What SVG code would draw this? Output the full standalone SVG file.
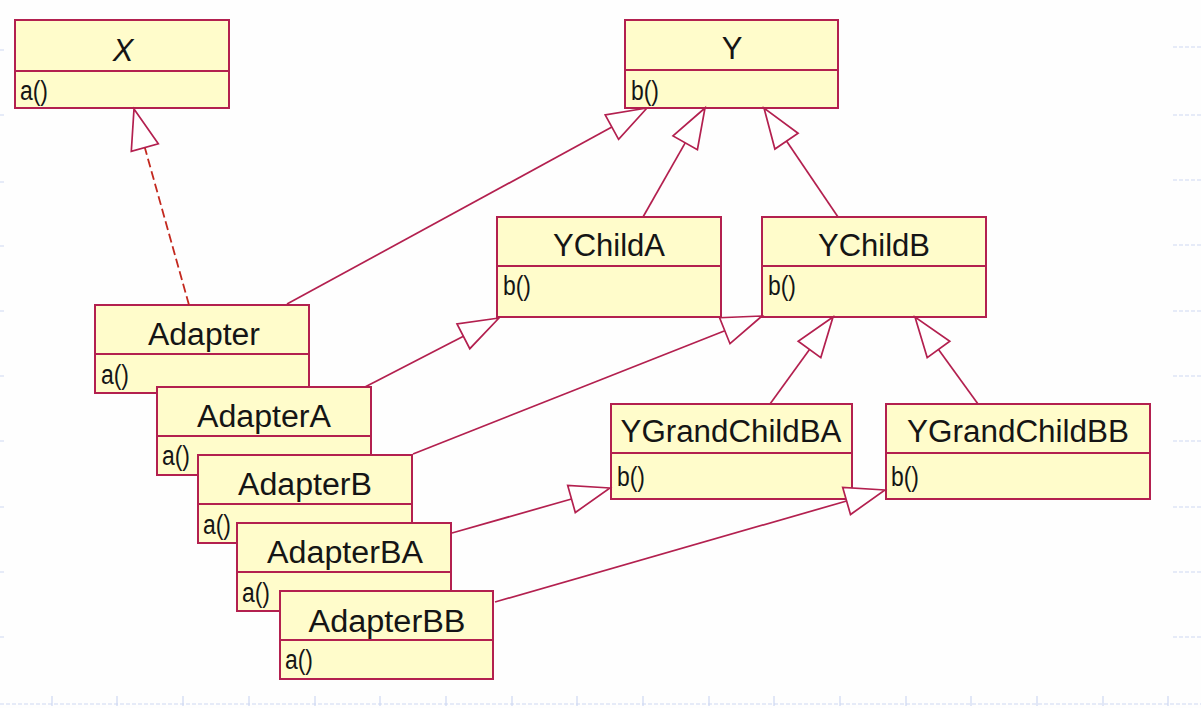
<svg xmlns="http://www.w3.org/2000/svg" width="1201" height="708" viewBox="0 0 1201 708">
<style>
.box{fill:#fffccb;stroke:#b3204f;stroke-width:2}
.div{stroke:#b3204f;stroke-width:2}
.t{font-family:"Liberation Sans",Arial,sans-serif;font-size:31px;fill:#151515;text-anchor:middle}
.m{font-family:"Liberation Sans",Arial,sans-serif;font-size:27px;fill:#151515}
.ln{stroke:#b3204f;stroke-width:1.7;fill:none}
.dash{stroke:#c3281e;stroke-width:1.8;fill:none;stroke-dasharray:9,4}
.head{fill:#ffffff;stroke:#b3204f;stroke-width:1.7;stroke-linejoin:miter}
.grid{stroke:#cdd8f2;stroke-width:1.2;fill:none;stroke-dasharray:4,2}
.tick{stroke:#cdd8f2;stroke-width:1.2;fill:none}
</style>
<rect x="0" y="0" width="1201" height="708" fill="#fefefe"/>
<g id="slide-grid">
<path class="grid" d="M1173 47H1201M1173 115H1201M1173 180H1201M1173 245H1201M1173 311H1201M1173 376H1201M1173 441H1201M1173 507H1201M1173 572H1201M1173 637H1201"/>
<path class="grid" d="M0 50H4M0 115H4M0 182H4M0 246H4M0 311H4M0 376H4M0 441H4M0 507H4M0 572H4M0 637H4"/>
<path class="grid" d="M0 704H1201"/>
<path class="tick" d="M52 696V706M117 696V706M183 696V706M249 696V706M315 696V706M380 696V706M446 696V706M512 696V706M577 696V706M643 696V706M709 696V706M774 696V706M840 696V706M906 696V706M971 696V706M1037 696V706M1103 696V706M1168 696V706"/>
</g>
<g id="X">
<rect class="box" x="15" y="20" width="214" height="88"/>
<line class="div" x1="15" y1="71" x2="229" y2="71"/>
<text class="t" x="123" y="61" font-style="italic">X</text>
<text class="m" x="20" y="100" textLength="28" lengthAdjust="spacingAndGlyphs">a()</text>
</g>
<g id="Y">
<rect class="box" x="625" y="20" width="213" height="88"/>
<line class="div" x1="625" y1="70" x2="838" y2="70"/>
<text class="t" x="732" y="59">Y</text>
<text class="m" x="631" y="100" textLength="28" lengthAdjust="spacingAndGlyphs">b()</text>
</g>
<g id="YChildA">
<rect class="box" x="497" y="217" width="224" height="100"/>
<line class="div" x1="497" y1="266" x2="721" y2="266"/>
<text class="t" x="609" y="256" textLength="112" lengthAdjust="spacingAndGlyphs">YChildA</text>
<text class="m" x="503" y="295" textLength="28" lengthAdjust="spacingAndGlyphs">b()</text>
</g>
<g id="YChildB">
<rect class="box" x="762" y="217" width="224" height="100"/>
<line class="div" x1="762" y1="266" x2="986" y2="266"/>
<text class="t" x="874" y="256" textLength="112" lengthAdjust="spacingAndGlyphs">YChildB</text>
<text class="m" x="768" y="295" textLength="28" lengthAdjust="spacingAndGlyphs">b()</text>
</g>
<g id="YGrandChildBA">
<rect class="box" x="611" y="404" width="241" height="95"/>
<line class="div" x1="611" y1="453" x2="852" y2="453"/>
<text class="t" x="731" y="442" textLength="221" lengthAdjust="spacingAndGlyphs">YGrandChildBA</text>
<text class="m" x="617" y="486" textLength="28" lengthAdjust="spacingAndGlyphs">b()</text>
</g>
<g id="YGrandChildBB">
<rect class="box" x="886" y="404" width="264" height="95"/>
<line class="div" x1="886" y1="453" x2="1150" y2="453"/>
<text class="t" x="1018" y="442" textLength="222" lengthAdjust="spacingAndGlyphs">YGrandChildBB</text>
<text class="m" x="891" y="486" textLength="28" lengthAdjust="spacingAndGlyphs">b()</text>
</g>
<g id="Adapter">
<rect class="box" x="95" y="305" width="214" height="88"/>
<line class="div" x1="95" y1="354" x2="309" y2="354"/>
<text class="t" x="204" y="345" textLength="112" lengthAdjust="spacingAndGlyphs">Adapter</text>
<text class="m" x="101" y="384" textLength="28" lengthAdjust="spacingAndGlyphs">a()</text>
</g>
<g id="AdapterA">
<rect class="box" x="157" y="387" width="214" height="88"/>
<line class="div" x1="157" y1="436" x2="371" y2="436"/>
<text class="t" x="264" y="427" textLength="134" lengthAdjust="spacingAndGlyphs">AdapterA</text>
<text class="m" x="162" y="465" textLength="28" lengthAdjust="spacingAndGlyphs">a()</text>
</g>
<g id="AdapterB">
<rect class="box" x="198" y="455" width="214" height="88"/>
<line class="div" x1="198" y1="504" x2="412" y2="504"/>
<text class="t" x="305" y="495" textLength="134" lengthAdjust="spacingAndGlyphs">AdapterB</text>
<text class="m" x="203" y="534" textLength="28" lengthAdjust="spacingAndGlyphs">a()</text>
</g>
<g id="AdapterBA">
<rect class="box" x="237" y="523" width="214" height="88"/>
<line class="div" x1="237" y1="572" x2="451" y2="572"/>
<text class="t" x="345" y="563" textLength="156" lengthAdjust="spacingAndGlyphs">AdapterBA</text>
<text class="m" x="242" y="602" textLength="28" lengthAdjust="spacingAndGlyphs">a()</text>
</g>
<g id="AdapterBB">
<rect class="box" x="280" y="591" width="213" height="88"/>
<line class="div" x1="280" y1="640" x2="493" y2="640"/>
<text class="t" x="387" y="632" textLength="157" lengthAdjust="spacingAndGlyphs">AdapterBB</text>
<text class="m" x="285" y="669" textLength="28" lengthAdjust="spacingAndGlyphs">a()</text>
</g>
<g id="connectors">
<line class="dash" x1="189" y1="305" x2="144.8" y2="147.5"/>
<polygon class="head" points="134,109 131.3,151.3 158.3,143.7"/>
<line class="ln" x1="287" y1="304" x2="611.9" y2="127.1"/>
<polygon class="head" points="647,108 605.2,114.8 618.6,139.4"/>
<line class="ln" x1="643" y1="217" x2="685.2" y2="142.8"/>
<polygon class="head" points="705,108 673,135.9 697.4,149.7"/>
<line class="ln" x1="838" y1="217" x2="786.5" y2="141.1"/>
<polygon class="head" points="764,108 774.9,149 798.1,133.2"/>
<line class="ln" x1="365" y1="387" x2="463.4" y2="336.3"/>
<polygon class="head" points="499,318 457,323.9 469.8,348.7"/>
<line class="ln" x1="413" y1="454" x2="724.8" y2="330.7"/>
<polygon class="head" points="762,316 719.6,317.7 730,343.7"/>
<line class="ln" x1="770" y1="404" x2="809.5" y2="349.4"/>
<polygon class="head" points="833,317 798.2,341.2 820.8,357.6"/>
<line class="ln" x1="978" y1="404" x2="938.5" y2="349.4"/>
<polygon class="head" points="915,317 927.2,357.6 949.8,341.2"/>
<line class="ln" x1="452" y1="533" x2="571.5" y2="499"/>
<polygon class="head" points="610,488 567.7,485.5 575.3,512.5"/>
<line class="ln" x1="495" y1="602" x2="846.6" y2="501"/>
<polygon class="head" points="885,490 842.7,487.5 850.5,514.5"/>
</g>
</svg>
